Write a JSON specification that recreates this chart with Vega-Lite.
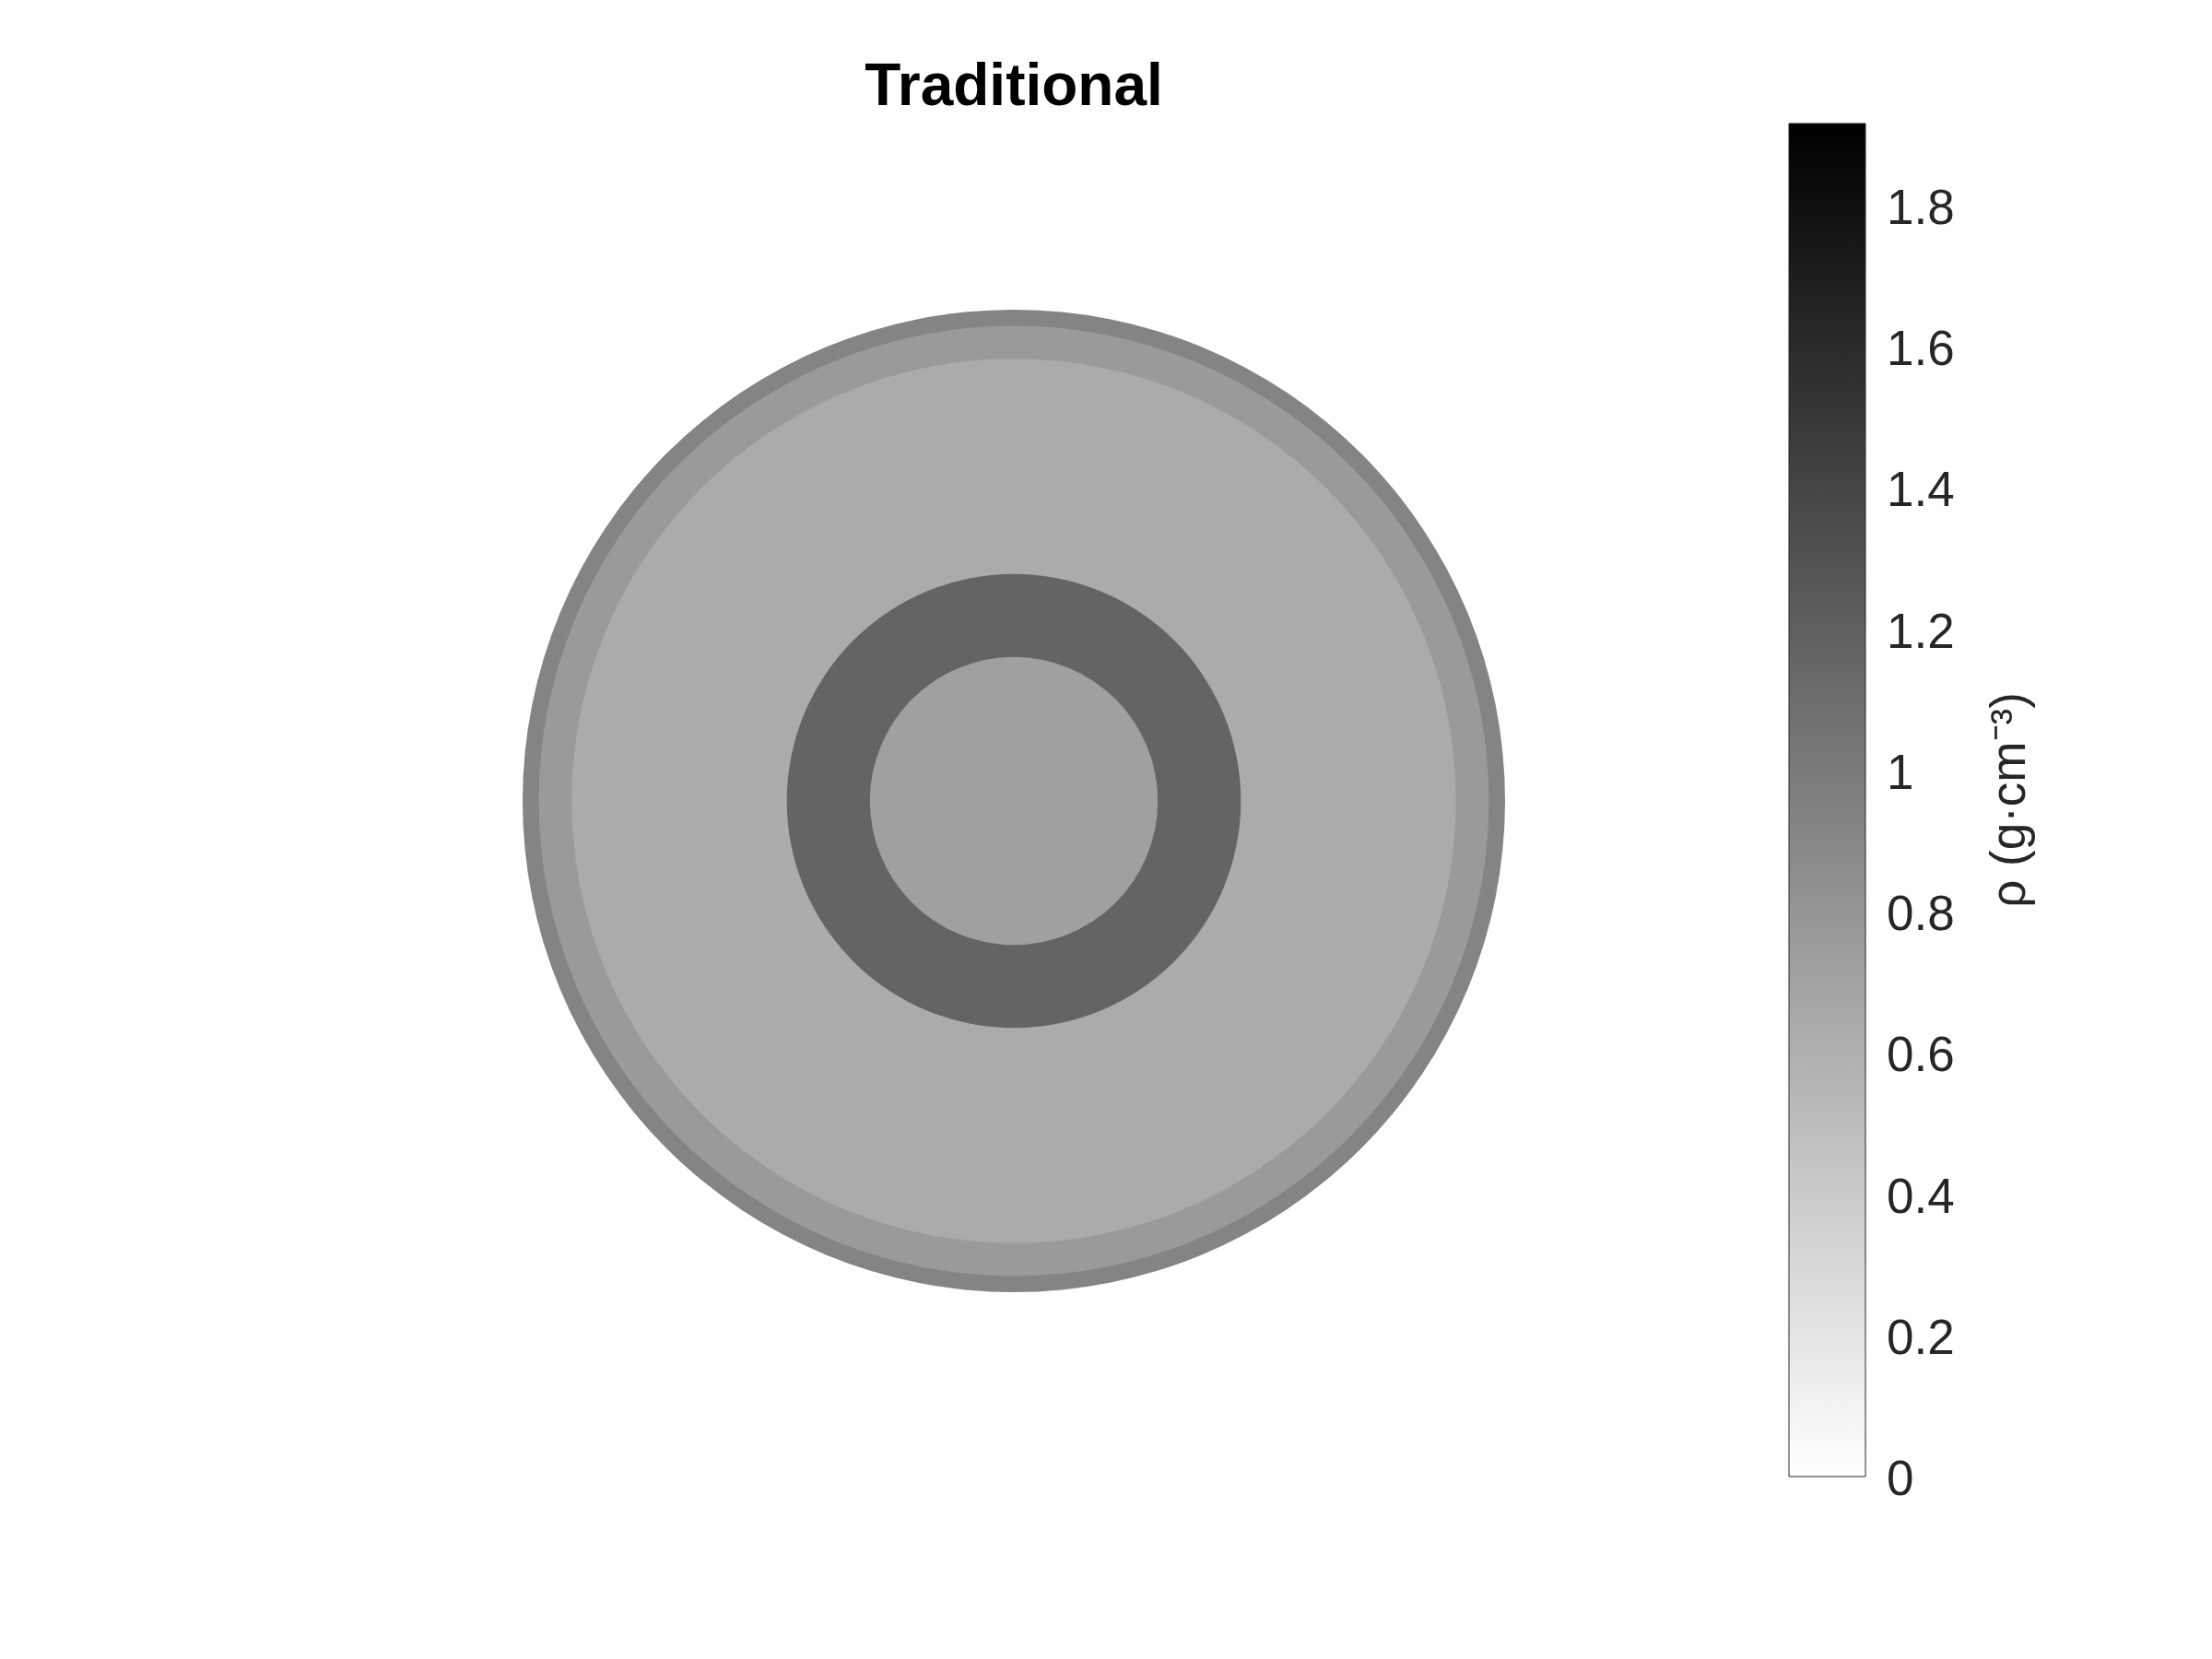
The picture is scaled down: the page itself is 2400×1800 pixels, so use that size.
{
  "$schema": "https://vega.github.io/schema/vega-lite/v6.json",
  "autosize": {"type": "none"},
  "width": 1200,
  "height": 1200,
  "padding": {"left": 500, "top": 269, "right": 700, "bottom": 331},
  "background": "white",
  "view": {"stroke": null},
  "title": {
    "text": "Traditional",
    "font": "Liberation Sans",
    "fontSize": 64,
    "fontWeight": "bold",
    "color": "#000000",
    "anchor": "middle",
    "frame": "group",
    "baseline": "alphabetic",
    "offset": 18,
    "dy": 62
  },
  "data": {
    "values": [
      {"layer": "outer ring", "r": 10.0, "rho": 0.924},
      {"layer": "second ring", "r": 9.67, "rho": 0.759},
      {"layer": "body", "r": 9.0, "rho": 0.631},
      {"layer": "dense ring", "r": 4.62, "rho": 1.165},
      {"layer": "core", "r": 2.93, "rho": 0.714}
    ]
  },
  "mark": {"type": "arc", "theta": 0, "theta2": 6.283185307179586, "stroke": null},
  "encoding": {
    "radius": {
      "field": "r",
      "type": "quantitative",
      "stack": null,
      "scale": {"type": "linear", "domain": [0, 10], "range": [0, 533], "zero": true, "nice": false}
    },
    "order": {"field": "r", "type": "quantitative", "sort": "descending"},
    "color": {
      "field": "rho",
      "type": "quantitative",
      "scale": {"domain": [0, 1.916], "range": ["#ffffff", "#000000"], "interpolate": "rgb", "nice": false, "zero": true},
      "legend": {
        "orient": "none",
        "legendX": 1441,
        "legendY": -135,
        "direction": "vertical",
        "padding": 0,
        "gradientLength": 1468,
        "gradientThickness": 83,
        "gradientStrokeColor": "#262626",
        "gradientStrokeWidth": 1,
        "values": [0, 0.2, 0.4, 0.6, 0.8, 1, 1.2, 1.4, 1.6, 1.8],
        "format": "~g",
        "labelFont": "Liberation Sans",
        "labelFontSize": 53,
        "labelColor": "#262626",
        "labelOffset": 23,
        "labelBaseline": "middle",
        "labelOverlap": false,
        "title": "ρ (g·cm⁻³)",
        "titleFont": "Liberation Sans",
        "titleFontSize": 53,
        "titleFontWeight": "normal",
        "titleColor": "#262626",
        "titleLimit": 2000,
        "titleOrient": "right",
        "titleAnchor": "middle",
        "titlePadding": 34,
        "titleBaseline": "top",
        "encode": {
          "title": {"update": {"angle": {"value": -90}}},
          "labels": {"update": {"baseline": {"value": "middle"}, "dy": {"value": 4}}}
        }
      }
    }
  }
}
